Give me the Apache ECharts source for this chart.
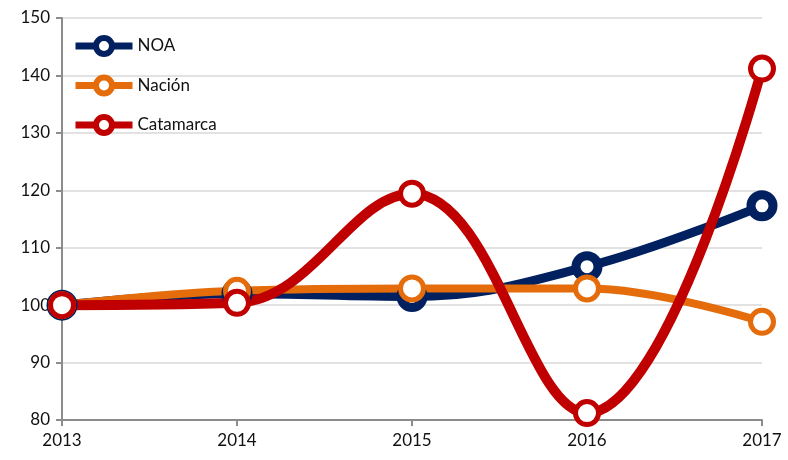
<!DOCTYPE html>
<html>
<head>
<meta charset="utf-8">
<script src="https://cdn.jsdelivr.net/npm/echarts@6/dist/echarts.min.js"></script>
<style>
  html, body { margin: 0; padding: 0; background: #fff; }
  #chart { width: 788px; height: 460px; }
</style>
</head>
<body>
<div id="chart"></div>
<script>
var years = ['2013', '2014', '2015', '2016', '2017'];
var noa = [100, 102, 101.5, 106.7, 117.3];
var nacion = [100, 102.5, 102.9, 102.9, 97.1];
var catamarca = [100, 100.4, 119.4, 81.2, 141.2];

var chart = echarts.init(document.getElementById('chart'));

var labelFont = { fontFamily: 'Lato', fontSize: 17, color: '#111' };

function legendItem(name, color) {
  return {
    name: name,
    lineStyle: { width: 7, color: color },
    itemStyle: { color: '#ffffff', borderColor: color, borderWidth: 6 }
  };
}

var option = {
  animation: false,
  grid: { left: 62, right: 26, top: 18, bottom: 40 },
  legend: {
    orient: 'vertical',
    left: 72,
    top: 35,
    padding: 0,
    itemWidth: 57,
    itemHeight: 20,
    itemGap: 17.5,
    textStyle: labelFont,
    data: [
      legendItem('NOA', '#002060'),
      legendItem('Nación', '#e46c0a'),
      legendItem('Catamarca', '#c00000')
    ]
  },
  xAxis: {
    type: 'category',
    data: years,
    boundaryGap: false,
    axisLine: { lineStyle: { color: '#8c8c8c', width: 2 } },
    axisTick: { alignWithLabel: true, length: 6, lineStyle: { color: '#8c8c8c', width: 2 } },
    axisLabel: Object.assign({ margin: 12 }, labelFont)
  },
  yAxis: {
    type: 'value',
    min: 80,
    max: 150,
    interval: 10,
    axisLine: { show: true, lineStyle: { color: '#8c8c8c', width: 2 } },
    axisTick: { show: true, length: 6, lineStyle: { color: '#8c8c8c', width: 2 } },
    axisLabel: Object.assign({ margin: 12 }, labelFont),
    splitLine: { lineStyle: { color: '#d9d9d9', width: 1.5 } }
  },
  series: [
    {
      name: 'NOA',
      type: 'line',
      data: noa,
      smooth: 0.4,
      symbol: 'circle',
      symbolSize: 22,
      lineStyle: { color: '#002060', width: 9 },
      itemStyle: { color: '#ffffff', borderColor: '#002060', borderWidth: 9 }
    },
    {
      name: 'Nación',
      type: 'line',
      data: nacion,
      smooth: 0.4,
      symbol: 'circle',
      symbolSize: 23,
      lineStyle: { color: '#e46c0a', width: 8 },
      itemStyle: { color: '#ffffff', borderColor: '#e46c0a', borderWidth: 5 }
    },
    {
      name: 'Catamarca',
      type: 'line',
      data: catamarca,
      smooth: 0.4,
      symbol: 'circle',
      symbolSize: 23,
      lineStyle: { color: '#c00000', width: 10 },
      itemStyle: { color: '#ffffff', borderColor: '#c00000', borderWidth: 5 }
    }
  ]
};

chart.setOption(option);
</script>
</body>
</html>
